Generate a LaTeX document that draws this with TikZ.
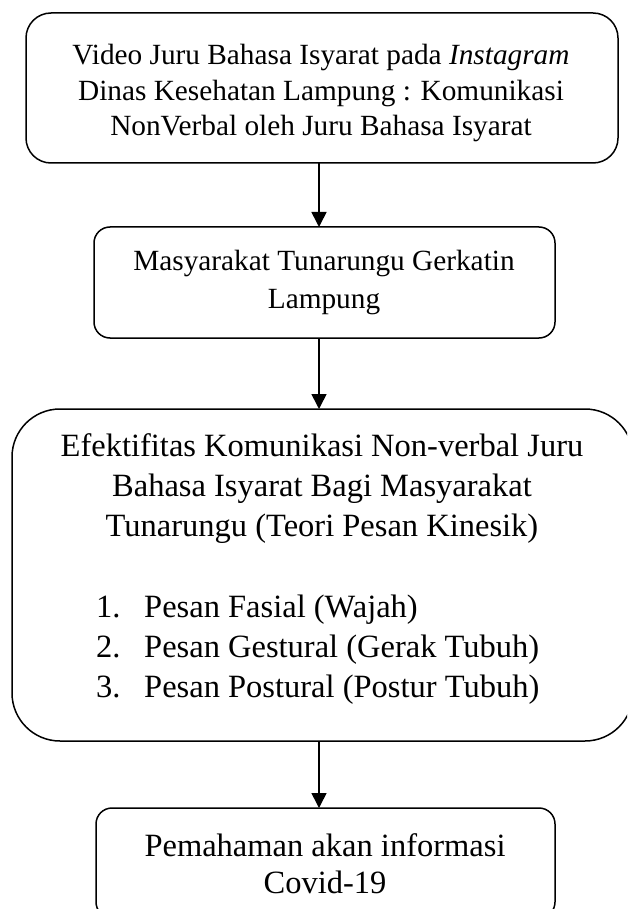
\documentclass[tikz,border=0pt]{standalone}
\usepackage{fontspec}
\setmainfont{Liberation Serif}
\usetikzlibrary{arrows.meta}
\begin{document}
\begin{tikzpicture}[x=1pt,y=-1pt,
  frame/.style={draw=black, line width=1.5pt, inner sep=0pt, outer sep=0pt},
  txtA/.style={font=\fontsize{29.3}{38}\selectfont, anchor=base, inner sep=0pt},
  txtB/.style={font=\fontsize{32.5}{42}\selectfont, anchor=base, inner sep=0pt},
  txtL/.style={font=\fontsize{32.5}{42}\selectfont, anchor=base west, inner sep=0pt},
  conn/.style={draw=black, line width=1.6pt, -{Triangle[length=15pt,width=15pt]}}
]
\useasboundingbox (0,0) rectangle (627,909);
\clip (0,0) rectangle (627,909);
% boxes
\node[frame, rounded corners=25pt, minimum width=592pt, minimum height=150pt] (b1) at (322,88) {};
\node[frame, rounded corners=16pt, minimum width=461pt, minimum height=111pt] (b2) at (324.5,282.5) {};
\node[frame, rounded corners=48pt, minimum width=621pt, minimum height=332pt] (b3) at (322.5,575) {};
\node[frame, rounded corners=16pt, minimum width=459pt, minimum height=110pt] (b4) at (325.5,863) {};
% texts
\node[txtA] (t1a) at (321,65) {Video Juru Bahasa Isyarat pada \textit{Instagram}};
\node[txtA] (t1b) at (321,100.5) {Dinas Kesehatan Lampung : Komunikasi};
\node[txtA] (t1c) at (321,136) {NonVerbal oleh Juru Bahasa Isyarat};
\node[txtA] (t2a) at (324,270) {Masyarakat Tunarungu Gerkatin};
\node[txtA] (t2b) at (324,308) {Lampung};
\node[txtB] (t3a) at (322,456) {Efektifitas Komunikasi Non-verbal Juru};
\node[txtB] (t3b) at (322,496) {Bahasa Isyarat Bagi Masyarakat};
\node[txtB] (t3c) at (322,536) {Tunarungu (Teori Pesan Kinesik)};
\node[txtL] (n1) at (96,617) {1.};
\node[txtL] (l1) at (144,617) {Pesan Fasial (Wajah)};
\node[txtL] (n2) at (96,657) {2.};
\node[txtL] (l2) at (144,657) {Pesan Gestural (Gerak Tubuh)};
\node[txtL] (n3) at (96,697) {3.};
\node[txtL] (l3) at (144,697) {Pesan Postural (Postur Tubuh)};
\node[txtB] (t4a) at (325,856) {Pemahaman akan informasi};
\node[txtB] (t4b) at (325,893) {Covid-19};
% connectors
\coordinate (ax) at (319,0);
\draw[conn] (b1.south -| ax) -- (b2.north -| ax);
\draw[conn] (b2.south -| ax) -- (b3.north -| ax);
\draw[conn] (b3.south -| ax) -- (b4.north -| ax);
\end{tikzpicture}
\end{document}
